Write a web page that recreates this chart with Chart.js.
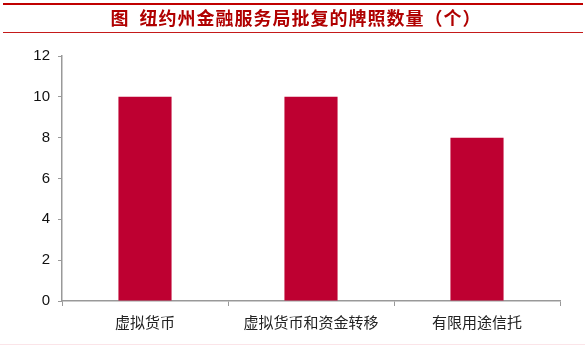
<!DOCTYPE html>
<html><head><meta charset="utf-8">
<script src="https://cdn.jsdelivr.net/npm/chart.js@4/dist/chart.umd.min.js"></script>
<style>html,body{margin:0;padding:0;background:#fff}#wrap{width:585px;height:346px;position:relative}</style>
</head><body><div id="wrap"><canvas id="c" width="585" height="346"></canvas></div>
<script>
const chartTitle = "图  纽约州金融服务局批复的牌照数量（个）";
const categories = ["虚拟货币", "虚拟货币和资金转移", "有限用途信托"];
const licenseCounts = [10, 10, 8];
const yTicks = [0, 2, 4, 6, 8, 10, 12];

const decor = {
  id: 'decor',
  beforeDraw(chart) {
    const ctx = chart.ctx;
    ctx.save();
    ctx.fillStyle = '#ffffff';
    ctx.fillRect(0, 0, chart.width, chart.height);
    ctx.fillStyle = '#c00000';
    ctx.fillRect(3, 3, 580, 2);
    ctx.fillStyle = '#c41a1a';
    ctx.fillRect(3, 32, 580, 1);
    ctx.fillStyle = '#fbe4e8';
    ctx.fillRect(0, 344, 585, 1);
    ctx.fillStyle = '#b00000';
    ctx.font = 'bold 18px "Noto Sans CJK SC"';
    ctx.letterSpacing = '1px';
    ctx.textAlign = 'center';
    ctx.textBaseline = 'middle';
    ctx.fillText(chartTitle, 296, 18);
    ctx.restore();
  }
};

new Chart(document.getElementById('c'), {
  type: 'bar',
  data: {
    labels: categories,
    datasets: [{
      data: licenseCounts,
      backgroundColor: '#be0031',
      borderWidth: 0,
      categoryPercentage: 1,
      barPercentage: 0.32
    }]
  },
  options: {
    responsive: false,
    animation: false,
    devicePixelRatio: 1,
    layout: { padding: { top: 56, right: 25, bottom: 0, left: 0 } },
    plugins: { legend: { display: false }, title: { display: false }, tooltip: { enabled: false } },
    scales: {
      x: {
        afterFit(s) { s.height = 45; },
        grid: { offset: true, drawOnChartArea: false, drawTicks: true, tickLength: 5, color: '#999', lineWidth: 1 },
        border: { color: '#999', width: 1.5 },
        ticks: { color: '#222', padding: 7, font: { family: '"Noto Sans CJK SC"', size: 15 } }
      },
      y: {
        min: 0, max: 12,
        afterFit(s) { s.width = 62; },
        afterBuildTicks(s) { s.ticks = yTicks.map(v => ({ value: v })); },
        grid: { drawOnChartArea: false, drawTicks: true, tickLength: 4, color: '#999', lineWidth: 1 },
        border: { color: '#999', width: 1.5 },
        ticks: { color: '#111', padding: 8, font: { family: '"Liberation Sans", Arial', size: 15 } }
      }
    }
  },
  plugins: [decor]
});
</script></body></html>
